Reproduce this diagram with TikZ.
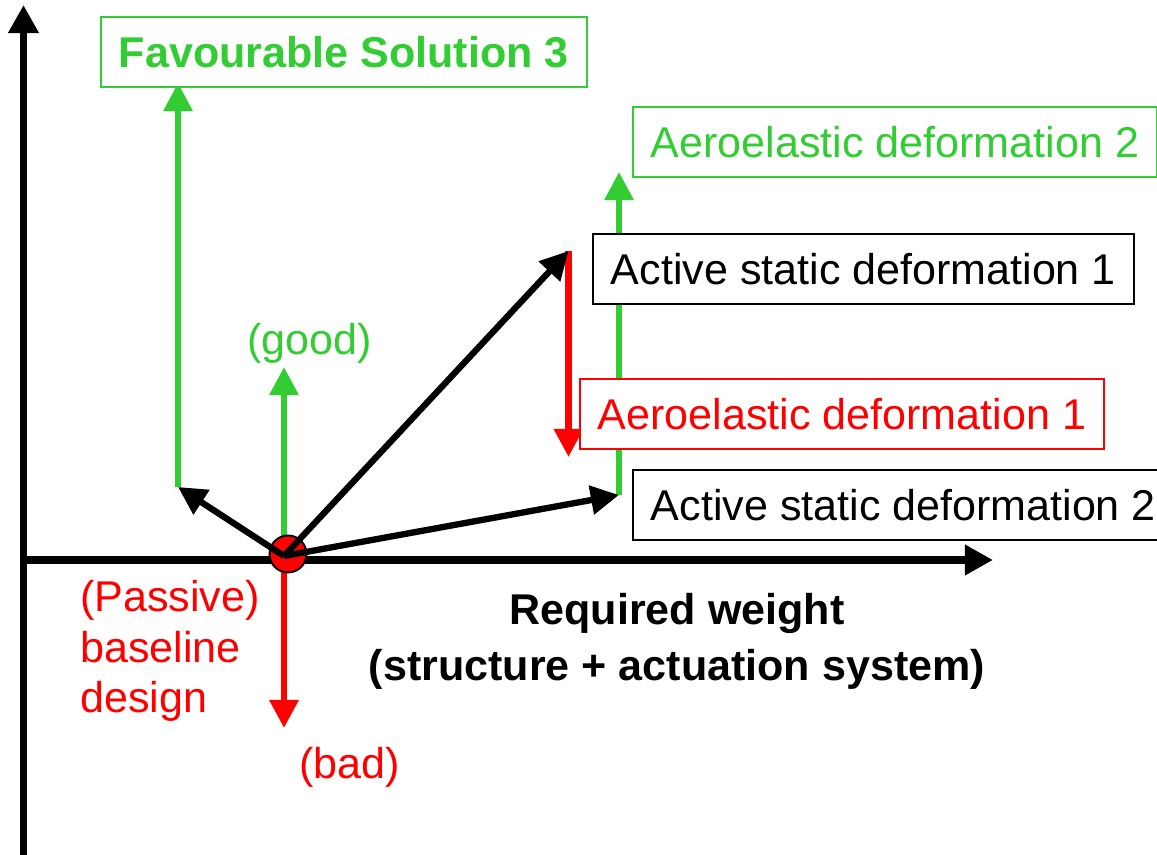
\documentclass[tikz,border=0pt]{standalone}
\usepackage{fontspec}
\setmainfont{Liberation Sans}
\usetikzlibrary{arrows.meta,positioning}

\definecolor{goodgreen}{RGB}{50,205,50}
\definecolor{badred}{RGB}{255,0,0}

\tikzset{
    axis/.style={line width=4pt, -{Triangle[length=16pt,width=16.5pt]}},
    move/.style={line width=3.6pt, -{Triangle[length=16pt,width=16pt]}},
    statebox/.style={draw, line width=1.1pt, fill=white, inner xsep=0.36cm, minimum height=1.4cm},
    tag/.style={inner sep=0pt},
}

\begin{document}
\begin{tikzpicture}[node distance=1cm, font=\fontsize{24.5}{29}\selectfont]
    \useasboundingbox (0,0) rectangle (23.14,17.10);
    \clip (0,0) rectangle (23.14,17.10);

    \coordinate (o) at (5.68,5.98);
    \coordinate (yb) at (0.47,0);
    \coordinate (yt) at (0.47,17.0);
    \coordinate (xe) at (19.86,5.90);
    \coordinate [right=of o, xshift=-3.12cm, yshift=1.38cm] (l);
    \coordinate [right=of o, xshift=-3.12cm, yshift=9.46cm] (ltop);
    \coordinate [right=of o, xshift=-1.0cm, yshift=3.78cm] (g);
    \coordinate [right=of o, xshift=-1.0cm, yshift=-3.44cm] (b);
    \coordinate [right=of o, xshift=4.69cm, yshift=6.10cm] (m);
    \coordinate [right=of o, xshift=4.69cm, yshift=1.98cm] (mdown);
    \coordinate [right=of o, xshift=5.70cm, yshift=1.22cm] (r);
    \coordinate [right=of o, xshift=5.70cm, yshift=7.68cm] (rtop);

    \draw [axis] (yb) -- (yt);
    \draw [axis] (yb |- xe) -- (xe);

    \draw [move, goodgreen, line width=3.4pt] (l) -- (ltop);
    \draw [move, goodgreen, line width=3.4pt] (o) -- (g);
    \draw [move, badred] (o) -- (b);
    \draw [move, badred] (m) -- (mdown);
    \draw [move, goodgreen, line width=3.4pt] (r) -- (rtop);

    \node [circle, draw, fill=badred, line width=1.1pt, inner sep=0pt, minimum size=0.74cm,
           right=of o, xshift=-0.92cm, yshift=0.04cm, anchor=center] (base) {};

    \draw [move] (o) -- (l);
    \draw [move] (o) -- (m);
    \draw [move] (o) -- (r);

    \node [statebox, draw=goodgreen, text=goodgreen, right=of o, xshift=-4.68cm, yshift=10.08cm] (fav) {\bfseries Favourable Solution 3};
    \node [statebox, draw=goodgreen, text=goodgreen, right=of o, xshift=5.96cm, yshift=8.28cm] (aeroii) {Aeroelastic deformation 2};
    \node [statebox, right=of o, xshift=5.16cm, yshift=5.74cm] (activei) {Active static deformation 1};
    \node [statebox, draw=badred, text=badred, right=of o, xshift=4.90cm, yshift=2.84cm] (aeroi) {Aeroelastic deformation 1};
    \node [statebox, right=of o, xshift=5.96cm, yshift=1.02cm] (activeii) {Active static deformation 2};

    \node [tag, text=goodgreen, right=of o, xshift=-1.74cm, yshift=4.26cm] (good) {(good)};
    \node [tag, text=badred, right=of o, xshift=-0.70cm, yshift=-4.22cm] (bad) {(bad)};
    \node [tag, text=badred, align=left, right=of o, xshift=-5.08cm, yshift=-3.14cm, anchor=base west] (passive) {(Passive)\\baseline\\design};
    \node [tag, align=center, font=\fontsize{24.5}{32}\selectfont\bfseries,
           right=of o, xshift=6.86cm, yshift=-2.50cm, anchor=base] (weight) {Required weight\\(structure + actuation system)};
\end{tikzpicture}
\end{document}
